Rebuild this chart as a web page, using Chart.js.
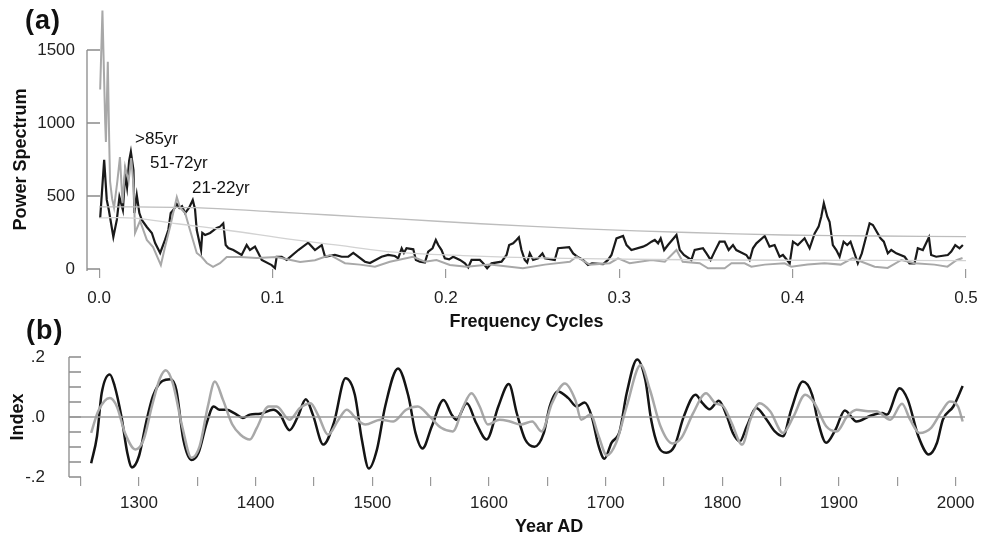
<!DOCTYPE html>
<html lang="en">
<head>
  <meta charset="UTF-8">
  <title>Power spectrum and index</title>
  <script src="https://cdn.jsdelivr.net/npm/chart.js"></script>
  <style>
    body {
      margin: 0;
      padding: 0;
      background: #fff;
      font-family: 'Liberation Sans', Arial, sans-serif;
    }
    #page {
      position: relative;
      width: 992px;
      height: 536px;
      overflow: hidden;
    }
    canvas {
      position: absolute;
      left: 0;
    }
    #spectrumChart { top: 0; }
    #indexChart { top: 335px; }
    .note {
      position: absolute;
      line-height: 1;
      color: #111;
      white-space: nowrap;
    }
    .panel {
      font-weight: bold;
      font-size: 27px;
      letter-spacing: 1px;
    }
    .period { font-size: 17px; }
  </style>
</head>
<body>
  <div id="page">
    <canvas id="spectrumChart" width="992" height="335"></canvas>
    <canvas id="indexChart" width="992" height="201"></canvas>

    <!-- panel labels and period notes -->
    <div class="note panel" style="left:25px; top:7px;">(a)</div>
    <div class="note panel" style="left:26px; top:317px;">(b)</div>
    <div class="note period" style="left:135px; top:130px;">&gt;85yr</div>
    <div class="note period" style="left:150px; top:154px;">51-72yr</div>
    <div class="note period" style="left:192px; top:179px;">21-22yr</div>
    <div class="note" style="left:515px; top:517px; font-size:18px; font-weight:bold;">Year AD</div>
  </div>

  <script>
    // (a) power spectrum, black series
    const freqBlack = [
      0.0006,0.0029,0.0044,0.0056,0.0082,0.0102,0.0117,0.0137,0.015,0.0161,
      0.0173,0.0183,0.0198,0.0203,0.0217,0.0232,0.0246,0.0275,0.0304,0.0323,
      0.0352,0.038,0.0399,0.0413,0.0428,0.0448,0.0463,0.0478,0.0496,0.0519,
      0.054,0.0553,0.0563,0.0588,0.0595,0.0611,0.064,0.0678,0.0697,0.0716,
      0.073,0.0745,0.0774,0.0822,0.0851,0.087,0.0899,0.0918,0.0938,0.0995,
      0.1014,0.1024,0.1053,0.1082,0.1149,0.1206,0.1245,0.1284,0.1303,0.136,
      0.1399,0.1437,0.1466,0.1533,0.1562,0.1629,0.1667,0.1706,0.1725,0.1745,
      0.1758,0.1773,0.1812,0.1827,0.185,0.1879,0.1898,0.1923,0.1942,0.1956,
      0.1975,0.1994,0.2019,0.2042,0.2081,0.211,0.2129,0.2148,0.2196,0.2215,
      0.2238,0.2263,0.2321,0.235,0.2365,0.2388,0.2407,0.2421,0.2436,0.2455,
      0.2469,0.2484,0.2503,0.2532,0.2557,0.2571,0.2628,0.2647,0.2711,0.2734,
      0.2763,0.2791,0.282,0.2843,0.2907,0.2935,0.2955,0.2984,0.3022,0.3042,
      0.307,0.3137,0.3157,0.3186,0.3205,0.3224,0.3239,0.3259,0.3281,0.333,
      0.3349,0.3373,0.3416,0.3435,0.3483,0.3503,0.3527,0.355,0.3579,0.3608,
      0.3631,0.3656,0.3675,0.3733,0.3752,0.3771,0.3791,0.3839,0.3867,0.3896,
      0.3925,0.3944,0.3983,0.4002,0.403,0.4069,0.4098,0.4127,0.415,0.4165,
      0.418,0.42,0.4213,0.4232,0.4252,0.4271,0.4294,0.4315,0.4334,0.4357,
      0.4376,0.4399,0.4419,0.4444,0.4463,0.4507,0.4526,0.4549,0.4569,0.4598,
      0.4646,0.4674,0.4703,0.4722,0.4751,0.4786,0.4799,0.4828,0.4895,0.4915,
      0.4938,0.4963,0.4982
    ];
    const powerBlack = [
      349,747,473,404,219,336,493,404,650,560,
      740,803,678,383,507,383,336,288,247,178,
      110,199,267,383,404,445,418,430,383,420,
      473,410,267,130,247,233,247,281,290,313,
      164,144,130,96,164,130,153,110,62,27,
      7,84,84,62,130,180,130,164,84,96,
      84,84,110,50,41,84,96,89,73,142,
      110,142,135,62,50,44,119,142,199,164,
      130,73,66,84,62,39,11,62,62,39,
      5,39,50,96,164,176,199,217,130,62,
      44,107,62,73,107,73,62,142,149,107,
      80,62,27,39,34,62,96,210,226,164,
      130,153,164,187,199,176,210,130,164,233,
      130,96,62,130,142,107,62,119,187,187,
      130,164,130,96,62,142,176,226,153,164,
      84,96,39,187,164,210,142,244,290,358,
      450,358,324,164,130,84,187,164,187,107,
      39,107,199,313,301,210,187,107,130,107,
      84,39,39,142,130,217,96,84,96,119,
      164,142,164
    ];

    // (a) power spectrum, gray series
    const freqGray = [
      0.0006,0.0019,0.0035,0.0039,0.005,0.0058,0.0063,0.0075,0.0086,0.0105,
      0.012,0.0135,0.015,0.017,0.0185,0.02,0.0207,0.0236,0.0275,0.0311,
      0.0356,0.038,0.0409,0.0448,0.0467,0.0496,0.0524,0.0563,0.0592,0.0621,
      0.0657,0.0697,0.0736,0.0813,0.0909,0.1024,0.1159,0.1245,0.1331,0.1418,
      0.1504,0.1591,0.1677,0.181,0.1879,0.1946,0.2023,0.2119,0.2254,0.2444,
      0.2571,0.2715,0.2753,0.283,0.2945,0.2993,0.306,0.3186,0.3263,0.333,
      0.3366,0.3464,0.3512,0.3608,0.3647,0.3723,0.3762,0.3839,0.3954,0.3992,
      0.4086,0.4184,0.4277,0.4346,0.4398,0.4473,0.4548,0.4627,0.4703,0.4818,
      0.4893,0.4945,0.498
    ];
    const powerGray = [
      1230,1770,1000,870,1420,880,600,480,420,600,
      767,450,700,600,760,550,247,330,199,150,
      27,150,288,493,420,383,267,110,82,41,
      14,40,82,82,75,82,48,60,96,40,
      30,16,50,84,50,62,27,16,30,5,
      30,50,84,30,40,73,40,62,50,130,
      50,40,5,5,39,39,16,30,39,16,
      30,39,30,75,50,16,7,62,39,30,
      16,60,75
    ];

    // (a) smooth background levels
    const freqUpper = [0, 0.02, 0.055, 0.1, 0.133, 0.17, 0.22, 0.28, 0.34, 0.395, 0.45, 0.5];
    const powerUpper = [425, 425, 420, 392, 370, 345, 310, 275, 250, 233, 226, 222];
    const freqLower = [0, 0.02, 0.045, 0.073, 0.113, 0.14, 0.17, 0.21, 0.26, 0.32, 0.4, 0.5];
    const powerLower = [350, 349, 310, 267, 199, 160, 115, 92, 75, 65, 60, 58];

    // (b) index, black series
    const yearBlack = [
      1259,1264,1268,1275,1279,1285,1290,1294,1300,1306,
      1312,1320,1327,1332,1338,1345,1351,1358,1364,1369,
      1375,1382,1389,1395,1404,1415,1421,1429,1436,1443,
      1449,1458,1467,1477,1485,1491,1497,1504,1511,1522,
      1531,1537,1543,1551,1561,1568,1572,1581,1589,1598,
      1608,1617,1624,1631,1639,1647,1652,1659,1668,1675,
      1682,1688,1694,1699,1705,1712,1718,1727,1734,1739,
      1745,1752,1759,1767,1777,1783,1789,1797,1804,1809,
      1815,1821,1829,1838,1845,1852,1859,1869,1877,1882,
      1889,1897,1905,1915,1927,1937,1941,1952,1959,1968,
      1977,1984,1989,1998,2006
    ];
    const indexBlack = [
      -0.154,-0.064,0.079,0.142,0.105,0.0,-0.12,-0.168,-0.13,-0.02,
      0.07,0.12,0.126,0.09,-0.075,-0.143,-0.119,-0.02,0.035,0.024,
      0.024,0.012,-0.003,0.008,0.011,0.024,0.008,-0.044,0,0.059,
      0.008,-0.092,-0.02,0.129,0.074,-0.075,-0.172,-0.108,0.035,0.162,
      0.068,-0.053,-0.105,-0.031,0.057,0.008,-0.009,0.046,-0.02,-0.075,
      0.035,0.11,0.01,-0.075,-0.099,-0.053,0.035,0.085,0.063,0.035,
      0.048,0.002,-0.097,-0.139,-0.086,-0.048,0.079,0.192,0.123,-0.009,
      -0.097,-0.119,-0.097,0.002,0.074,0.046,0.026,0.054,0.002,-0.053,
      -0.081,-0.031,0.03,-0.009,-0.048,-0.064,0.024,0.118,0.074,-0.015,
      -0.086,-0.042,0.022,-0.015,0.004,0.013,0.008,0.096,0.057,-0.064,
      -0.125,-0.086,-0.009,0.035,0.103
    ];

    // (b) index, gray series
    const yearGray = [
      1259,1265,1275,1281,1288,1297,1304,1311,1318,1323,
      1329,1337,1345,1352,1359,1365,1372,1380,1387,1395,
      1401,1411,1418,1429,1438,1447,1454,1462,1471,1478,
      1487,1494,1507,1518,1529,1539,1549,1559,1569,1578,
      1585,1592,1599,1609,1618,1627,1637,1645,1654,1665,
      1674,1679,1687,1694,1701,1709,1718,1730,1738,1747,
      1757,1765,1775,1786,1794,1801,1808,1817,1824,1832,
      1841,1852,1861,1871,1879,1889,1898,1907,1915,1925,
      1932,1944,1954,1961,1969,1979,1988,1995,2002,2006
    ];
    const indexGray = [
      -0.053,0.019,0.063,0.035,-0.053,-0.108,-0.075,0.035,0.129,0.156,
      0.112,-0.031,-0.136,-0.097,0.035,0.118,0.057,-0.025,-0.059,-0.075,
      -0.036,0.035,0.035,-0.009,0.03,0.046,0.002,-0.059,-0.009,0.024,
      -0.009,-0.025,-0.009,-0.015,0.024,0.035,0.002,-0.036,-0.048,0.035,
      0.079,0.035,-0.025,-0.009,-0.015,-0.025,-0.015,-0.048,0.046,0.112,
      0.057,-0.009,0.008,-0.064,-0.128,-0.086,0.035,0.173,0.09,-0.031,
      -0.088,-0.069,0.013,0.079,0.046,0.035,-0.02,-0.092,-0.009,0.046,
      0.019,-0.053,0.002,0.074,0.046,-0.031,-0.048,0.002,0.024,0.019,
      0.019,-0.009,0.044,-0.009,-0.053,-0.036,0.019,0.052,0.035,-0.015
    ];

    // zero reference line in (b)
    const zeroYears = [1240, 2008];
    const zeroValues = [0, 0];

    const FONT = "'Liberation Sans', Arial, sans-serif";
    Chart.defaults.font.family = FONT;
    Chart.defaults.color = '#222';

    function pts(xs, ys) {
      return xs.map((x, i) => ({ x: x, y: ys[i] }));
    }

    // y axis line with ticks pointing into the plot
    const innerYAxis = {
      id: 'innerYAxis',
      beforeDatasetsDraw(chart, args, opts) {
        const y = chart.scales.y;
        const ctx = chart.ctx;
        const x0 = chart.chartArea.left;
        ctx.save();
        ctx.strokeStyle = opts.color;
        ctx.lineWidth = 1.3;
        ctx.beginPath();
        ctx.moveTo(x0, y.getPixelForValue(y.max));
        ctx.lineTo(x0, y.getPixelForValue(y.min) + opts.extend);
        y.ticks.forEach(t => {
          const py = y.getPixelForValue(t.value);
          ctx.moveTo(x0, py);
          ctx.lineTo(x0 + opts.len, py);
        });
        ctx.stroke();
        ctx.restore();
      }
    };

    // panel (a)
    new Chart(document.getElementById('spectrumChart'), {
      type: 'line',
      data: {
        datasets: [
          { data: pts(freqUpper, powerUpper), borderColor: '#bdbdbd', borderWidth: 1.3, tension: 0.4, clip: false },
          { data: pts(freqLower, powerLower), borderColor: '#d2d2d2', borderWidth: 1.3, tension: 0.4, clip: false },
          { data: pts(freqGray, powerGray), borderColor: '#a8a8a8', borderWidth: 2, tension: 0, clip: false },
          { data: pts(freqBlack, powerBlack), borderColor: '#1a1a1a', borderWidth: 2.2, tension: 0, clip: false }
        ]
      },
      options: {
        responsive: false,
        animation: false,
        devicePixelRatio: 1,
        elements: { point: { radius: 0 } },
        layout: { padding: { top: 50, right: 26, left: 0, bottom: 0 } },
        plugins: {
          legend: { display: false },
          tooltip: { enabled: false },
          innerYAxis: { color: '#8a8a8a', len: 13, extend: 2 }
        },
        scales: {
          x: {
            type: 'linear',
            min: -0.007,
            max: 0.5,
            ticks: {
              stepSize: 0.1,
              includeBounds: false,
              autoSkip: false,
              maxRotation: 0,
              padding: 10,
              font: { size: 17 },
              callback: v => v.toFixed(1)
            },
            grid: { drawOnChartArea: false, tickLength: 9, color: '#999', lineWidth: 1.2 },
            border: { display: false },
            title: {
              display: true,
              text: 'Frequency Cycles',
              color: '#111',
              font: { size: 18, weight: 'bold' },
              padding: { top: 0, bottom: 2 }
            },
            afterFit: s => { s.height = 66; }
          },
          y: {
            min: 0,
            max: 1500,
            ticks: { stepSize: 500, padding: 0, font: { size: 17 }, callback: v => String(v) },
            // hidden grid; its tick length only sets the gap between labels and axis
            grid: { display: false, drawTicks: true, tickLength: 12 },
            border: { display: false },
            title: {
              display: true,
              text: 'Power Spectrum',
              color: '#111',
              font: { size: 18, weight: 'bold' },
              padding: { top: 10, bottom: 0 }
            },
            afterFit: s => { s.width = 87; }
          }
        }
      },
      plugins: [innerYAxis]
    });

    // panel (b)
    new Chart(document.getElementById('indexChart'), {
      type: 'line',
      data: {
        datasets: [
          { data: pts(zeroYears, zeroValues), borderColor: '#9a9a9a', borderWidth: 1.5 },
          { data: pts(yearGray, indexGray), borderColor: '#a8a8a8', borderWidth: 2.5, cubicInterpolationMode: 'monotone' },
          { data: pts(yearBlack, indexBlack), borderColor: '#141414', borderWidth: 2.5, cubicInterpolationMode: 'monotone' }
        ]
      },
      options: {
        responsive: false,
        animation: false,
        devicePixelRatio: 1,
        elements: { point: { radius: 0 } },
        layout: { padding: { top: 22, right: 27, left: 0, bottom: 0 } },
        plugins: {
          legend: { display: false },
          tooltip: { enabled: false },
          innerYAxis: { color: '#8a8a8a', len: 12, extend: 0 }
        },
        scales: {
          x: {
            type: 'linear',
            min: 1240,
            max: 2008,
            ticks: {
              stepSize: 50,
              includeBounds: false,
              autoSkip: false,
              maxRotation: 0,
              padding: 7,
              font: { size: 17 },
              callback: v => (v % 100 === 0 ? String(v) : '')
            },
            grid: { drawOnChartArea: false, tickLength: 9, color: '#999', lineWidth: 1.2 },
            border: { display: false },
            afterFit: s => { s.height = 59; }
          },
          y: {
            min: -0.2,
            max: 0.2,
            ticks: {
              stepSize: 0.05,
              autoSkip: false,
              padding: 0,
              font: { size: 17 },
              callback: v => {
                const r = Math.round(v * 100);
                if (r === 20) return '.2';
                if (r === 0) return '.0';
                if (r === -20) return '-.2';
                return '';
              }
            },
            grid: { display: false, drawTicks: true, tickLength: 24 },
            border: { display: false },
            title: {
              display: true,
              text: 'Index',
              color: '#111',
              font: { size: 18, weight: 'bold' },
              padding: { top: 7, bottom: 0 }
            },
            afterFit: s => { s.width = 69; }
          }
        }
      },
      plugins: [innerYAxis]
    });
  </script>
</body>
</html>
